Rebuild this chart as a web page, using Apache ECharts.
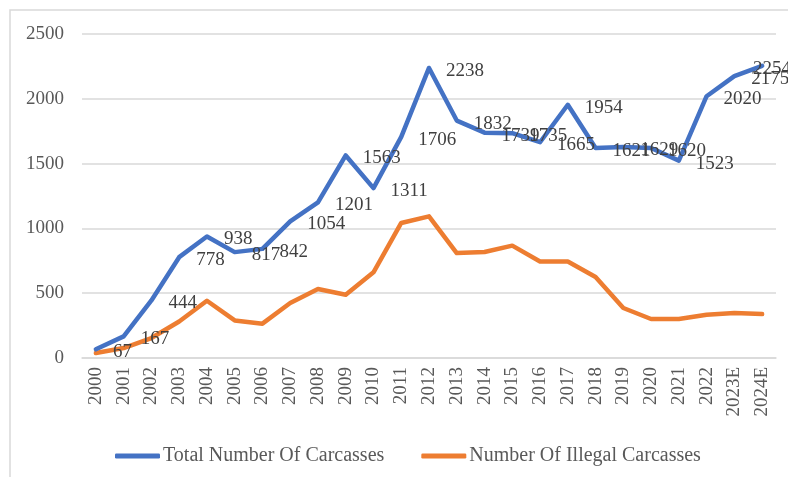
<!DOCTYPE html>
<html>
<head>
<meta charset="utf-8">
<style>html,body{margin:0;padding:0;background:#fff;}#chart{width:788px;height:477px;}</style>
<script src="https://cdn.jsdelivr.net/npm/echarts@6/dist/echarts.min.js"></script>
</head>
<body>
<div id="chart"></div>
<script>
var years = ['2000','2001','2002','2003','2004','2005','2006','2007','2008','2009','2010','2011','2012','2013','2014','2015','2016','2017','2018','2019','2020','2021','2022','2023E','2024E'];
var totalCarcasses = [67,167,444,778,938,817,842,1054,1201,1563,1311,1706,2238,1832,1739,1735,1665,1954,1621,1629,1620,1523,2020,2175,2254];
var illegalCarcasses = [38,77,154,282,442,290,265,424,532,488,661,1042,1093,810,818,867,745,745,625,386,301,301,334,347,339];
var yTicks = {min:0, max:2500, interval:500};
var seriesNames = ['Total Number Of Carcasses','Number Of Illegal Carcasses'];

var font = 'Liberation Serif';
var chart = echarts.init(document.getElementById('chart'));
var totalData = totalCarcasses.map(function(v, i){
  if (i === totalCarcasses.length - 1) {
    return {value: v, label: {distance: -9}};
  }
  return v;
});
chart.setOption({
  animation: false,
  graphic: [{
    type: 'polyline',
    shape: {points: [[10, 480], [10, 10], [790, 10]]},
    style: {stroke: '#d9d9d9', lineWidth: 1.5, fill: null},
    silent: true
  }],
  grid: {left: 82, right: 12, top: 34, bottom: 119},
  legend: {
    left: 110, top: 441,
    itemWidth: 45, itemHeight: 5, itemGap: 37,
    icon: 'roundRect',
    textStyle: {fontFamily: font, fontSize: 20, color: '#595959', padding: [0,0,0,-2]},
    data: seriesNames
  },
  xAxis: {
    type: 'category',
    data: years,
    boundaryGap: true,
    axisLine: {lineStyle: {color: '#d9d9d9', width: 1.5}},
    axisTick: {show: false},
    axisLabel: {rotate: 90, margin: 9, fontFamily: font, fontSize: 19, color: '#595959', interval: 0}
  },
  yAxis: {
    type: 'value',
    min: yTicks.min, max: yTicks.max, interval: yTicks.interval,
    axisLine: {show: false},
    axisTick: {show: false},
    splitLine: {lineStyle: {color: '#d9d9d9', width: 1.5}},
    axisLabel: {margin: 18, fontFamily: font, fontSize: 19, color: '#595959', formatter: function(v){ return String(v); }}
  },
  series: [{
    name: seriesNames[0],
    type: 'line',
    data: totalData,
    symbol: 'circle',
    symbolSize: 0,
    showSymbol: true,
    z: 3,
    lineStyle: {color: '#4472C4', width: 4.5, cap: 'round', join: 'round'},
    itemStyle: {color: '#4472C4'},
    label: {show: true, position: 'right', distance: 17, fontFamily: font, fontSize: 19, color: '#404040'},
    labelLayout: {hideOverlap: false, dy: 3}
  }, {
    name: seriesNames[1],
    type: 'line',
    data: illegalCarcasses,
    symbol: 'none',
    z: 2,
    lineStyle: {color: '#ED7D31', width: 4.5, cap: 'round', join: 'round'},
    itemStyle: {color: '#ED7D31'}
  }]
});
</script>
</body>
</html>
